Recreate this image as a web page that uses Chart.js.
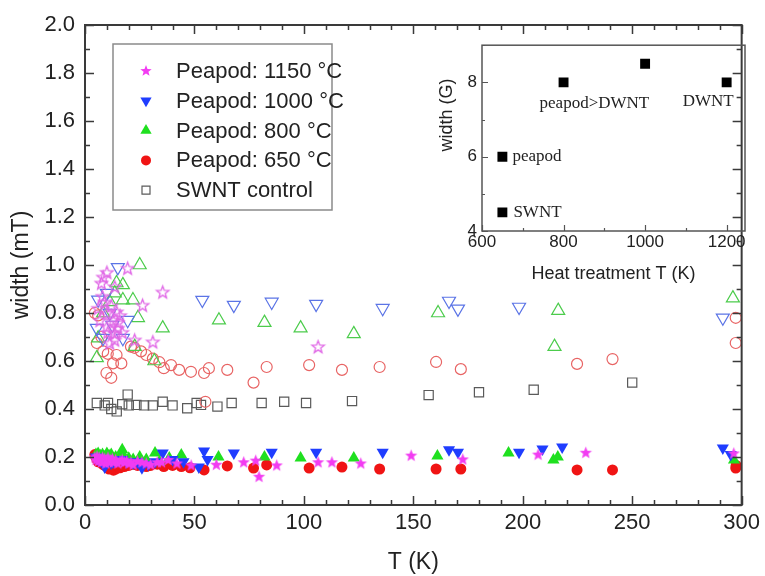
<!DOCTYPE html>
<html>
<head>
<meta charset="utf-8">
<script src="https://cdn.jsdelivr.net/npm/chart.js@4/dist/chart.umd.min.js"></script>
<style>
  html, body { margin: 0; padding: 0; background: #fff; }
  #wrap { position: relative; width: 765px; height: 576px; }
  #mainChart { position: absolute; left: 0; top: 0; }
  #insetChart { position: absolute; left: 436px; top: 30px; }
</style>
</head>
<body>
<div id="wrap">
  <canvas id="mainChart" width="765" height="576"></canvas>
  <canvas id="insetChart" width="329" height="255"></canvas>
</div>
<script>
// ---- main plot data: T (K) and linewidth (mT) ----
// Peapod 1150 C
const t1150Narrow = [4.5,5,5.5,6,6.5,7,7.5,8,8.5,9,9.5,10,10.5,11,11.5,12,12.5,13,14,15,16,17,18,19,20,21,22,24,26,28,30,33,35,38,42,48.5,60,72.5,78,79.5,87.6,106.5,112.8,126,149,172.6,207,228.8,296.4];
const w1150Narrow = [0.2,0.19,0.205,0.185,0.2,0.19,0.18,0.2,0.185,0.195,0.175,0.19,0.2,0.18,0.19,0.185,0.195,0.18,0.19,0.175,0.185,0.19,0.18,0.185,0.175,0.18,0.17,0.185,0.18,0.175,0.17,0.18,0.18,0.19,0.175,0.167,0.17,0.18,0.187,0.12,0.167,0.18,0.18,0.175,0.208,0.192,0.212,0.22,0.217];
const t1150Broad = [6,6.8,7.5,8,8.3,9,10,10,10,10.4,11.3,12,12.8,13.6,13.6,13.6,14.5,15,15,16,17,19.5,22.7,26.3,31,35.5,106.5];
const w1150Broad = [0.82,0.77,0.925,0.87,0.95,0.846,0.97,0.8,0.742,0.72,0.675,0.83,0.77,0.91,0.716,0.688,0.805,0.737,0.76,0.79,0.72,0.987,0.688,0.833,0.68,0.888,0.66];
// Peapod 1000 C
const t1000Narrow = [5,6,7,8,9,10,11,12,13,15,17,19,22,24,26,29,32,35.5,40,45,52,54.4,56,68,85.3,105.6,136,166.3,170.4,198.3,209,218,291.4,295];
const w1000Narrow = [0.2,0.19,0.185,0.18,0.158,0.18,0.185,0.175,0.18,0.185,0.19,0.18,0.175,0.18,0.155,0.17,0.18,0.217,0.19,0.18,0.158,0.225,0.19,0.217,0.22,0.22,0.22,0.23,0.22,0.22,0.233,0.242,0.238,0.21];
const t1000Broad = [5.4,6,8.2,10,11.3,12.5,15,17.3,19.5,53.6,68,85.3,105.6,136,166.3,170.4,198.3,291.4];
const w1000Broad = [0.737,0.855,0.695,0.883,0.8,0.75,0.99,0.695,0.77,0.854,0.833,0.846,0.837,0.82,0.85,0.817,0.825,0.78];
// Peapod 800 C
const t800Narrow = [5,6,7,8,9,10,11,12,14,16,17,18,20,22,25,28,32,34,38.5,44,61,82,98.5,122.8,161,193.5,214,216,296.5];
const w800Narrow = [0.21,0.215,0.205,0.21,0.2,0.215,0.205,0.21,0.2,0.205,0.23,0.2,0.195,0.19,0.2,0.19,0.217,0.18,0.196,0.208,0.2,0.2,0.196,0.196,0.204,0.217,0.187,0.2,0.187];
const t800Broad = [5.4,6,8.3,11.3,13.6,14.4,17.3,17.3,21.9,22.7,24.2,25,31.7,35.5,61.2,82,98.5,122.8,161.3,214.5,216.2,296];
const w800Broad = [0.613,0.695,0.8,0.846,0.883,0.925,0.917,0.854,0.854,0.66,0.78,1.0,0.6,0.737,0.77,0.76,0.737,0.713,0.8,0.66,0.81,0.862];
// Peapod 650 C
const t650Narrow = [4.5,5,5.5,6,7,8,9,10,11,12,13,14,15,16,17,18,20,22,24,26,28,30,33,36,40,44,48,54.4,65,77,83,102.4,117.4,134.6,160.4,171.7,224.8,241,297.3,297.5];
const w650Narrow = [0.21,0.2,0.19,0.18,0.185,0.17,0.165,0.16,0.15,0.155,0.145,0.15,0.16,0.155,0.165,0.16,0.165,0.17,0.165,0.17,0.16,0.165,0.17,0.16,0.165,0.16,0.155,0.146,0.163,0.154,0.167,0.154,0.158,0.15,0.15,0.15,0.146,0.146,0.154,0.165];
const t650Broad = [4.5,5.4,6,7.5,8.3,9.8,10.4,12,12.8,14.4,16.6,21,22.6,25.6,28,31,34,36,39.3,43,48.4,54.4,55,56.6,65,77,83,102.4,117.4,134.6,160.4,171.7,224.8,241,297.3,297.3];
const w650Broad = [0.8,0.675,0.79,0.7,0.64,0.55,0.63,0.53,0.59,0.625,0.59,0.66,0.655,0.64,0.625,0.61,0.595,0.57,0.583,0.563,0.555,0.55,0.43,0.57,0.563,0.51,0.575,0.583,0.563,0.575,0.596,0.566,0.588,0.608,0.78,0.675];
// SWNT control
const tSwnt = [5.4,9,10.5,12,14.5,17,19.5,20,23.5,27,31,35.5,40,46.7,51,53,60.5,67,80.7,91,101,122,157,180,205,250];
const wSwnt = [0.425,0.415,0.425,0.4,0.39,0.42,0.46,0.415,0.417,0.415,0.415,0.43,0.415,0.403,0.425,0.417,0.41,0.425,0.425,0.43,0.425,0.433,0.458,0.47,0.48,0.51];

const legendLabels = ['Peapod: 1150 °C', 'Peapod: 1000 °C', 'Peapod: 800 °C', 'Peapod: 650 °C', 'SWNT control'];

// ---- inset data: heat treatment T (K) vs width (G) ----
const insetT = [650, 650, 800, 1000, 1200];
const insetWidth = [4.5, 6, 8, 8.5, 8];
const insetNotes = ['SWNT', 'peapod', 'peapod>DWNT', '', 'DWNT'];

const SANS = '"Liberation Sans", Arial, sans-serif';
const SERIF = '"Liberation Serif", "Times New Roman", serif';
const TXT = '#222';

const MAG = '#f23cf2', MAG_L = '#e066e6';
const BLU = '#1f3dff', BLU_L = '#5b74e6';
const GRN = '#1fe01f', GRN_L = '#4ccc4c';
const RED = '#f01414', RED_L = '#e86464';
const GRY = '#5a5a5a';

function starPath(ctx, cx, cy, r) {
  ctx.beginPath();
  for (let i = 0; i < 10; i++) {
    const rad = i % 2 ? r * 0.42 : r;
    const ang = -Math.PI / 2 + i * Math.PI / 5;
    const px = cx + rad * Math.cos(ang), py = cy + rad * Math.sin(ang);
    if (i) ctx.lineTo(px, py); else ctx.moveTo(px, py);
  }
  ctx.closePath();
}

function starImage(r, fill, stroke) {
  const c = document.createElement('canvas');
  c.width = c.height = Math.ceil(r * 2 + 4);
  const g = c.getContext('2d');
  starPath(g, c.width / 2, c.height / 2 + r * 0.1, r);
  if (fill) { g.fillStyle = fill; g.fill(); }
  if (stroke) { g.strokeStyle = stroke; g.lineWidth = 1.3; g.stroke(); }
  return c;
}

const starFilled = starImage(6.5, MAG, null);
const starHollow = starImage(6.5, null, MAG_L);

function pts(ts, ws) {
  return ts.map((t, i) => ({x: t, y: ws[i]}));
}

function filled(data, style, color, r, rot) {
  return {data: data, pointStyle: style, pointRadius: r, pointRotation: rot || 0,
    pointBackgroundColor: color, pointBorderColor: color, pointBorderWidth: 0, showLine: false};
}
function hollow(data, style, color, r, rot) {
  return {data: data, pointStyle: style, pointRadius: r, pointRotation: rot || 0,
    pointBackgroundColor: 'rgba(0,0,0,0)', pointBorderColor: color, pointBorderWidth: 1.2, showLine: false};
}

// legend markers (drawn by hand, the legend sits inside the plot)
const legendMarkers = [
  {shape: 'star', r: 6, fill: MAG},
  {shape: 'triDown', r: 6.5, fill: BLU},
  {shape: 'tri', r: 6.5, fill: GRN},
  {shape: 'circle', r: 5, fill: RED},
  {shape: 'rect', r: 4, stroke: GRY}
];

function drawMarker(ctx, m, x, y) {
  ctx.save();
  ctx.fillStyle = m.fill || 'rgba(0,0,0,0)';
  ctx.strokeStyle = m.stroke || m.fill;
  ctx.lineWidth = 1.2;
  ctx.beginPath();
  if (m.shape === 'star') {
    starPath(ctx, x, y, m.r);
  } else if (m.shape === 'circle') {
    ctx.arc(x, y, m.r, 0, 2 * Math.PI);
  } else if (m.shape === 'tri' || m.shape === 'triDown') {
    const s = m.shape === 'tri' ? -1 : 1;
    ctx.moveTo(x, y + s * m.r);
    ctx.lineTo(x + m.r * 0.866, y - s * m.r * 0.5);
    ctx.lineTo(x - m.r * 0.866, y - s * m.r * 0.5);
    ctx.closePath();
  } else {
    ctx.rect(x - m.r, y - m.r, 2 * m.r, 2 * m.r);
  }
  if (m.fill) ctx.fill();
  if (m.stroke) ctx.stroke();
  ctx.restore();
}

// frame + inward pointing ticks on all sides
const frameTicks = {
  id: 'frameTicks',
  afterDraw(chart, args, o) {
    const {ctx, chartArea: a} = chart;
    const xs = chart.scales.x, ys = chart.scales.y;
    ctx.save();
    ctx.strokeStyle = o.color;
    ctx.lineWidth = o.tickWidth;
    ctx.beginPath();
    let n = Math.round((xs.max - xs.min) / o.xMinor);
    for (let i = 0; i <= n; i++) {
      const v = xs.min + i * o.xMinor;
      const px = Math.round(xs.getPixelForValue(v)) + 0.5;
      const q = v / o.xMajor;
      const len = Math.abs(q - Math.round(q)) < 1e-6 ? o.majorLen : o.minorLen;
      ctx.moveTo(px, a.bottom); ctx.lineTo(px, a.bottom - len);
      if (o.mirror) { ctx.moveTo(px, a.top); ctx.lineTo(px, a.top + len); }
    }
    n = Math.round((ys.max - ys.min) / o.yMinor);
    for (let i = 0; i <= n; i++) {
      const v = ys.min + i * o.yMinor;
      const py = Math.round(ys.getPixelForValue(v)) + 0.5;
      const q = v / o.yMajor;
      const len = Math.abs(q - Math.round(q)) < 1e-6 ? o.majorLen : o.minorLen;
      ctx.moveTo(a.left, py); ctx.lineTo(a.left + len, py);
      if (o.mirror) { ctx.moveTo(a.right, py); ctx.lineTo(a.right - len, py); }
    }
    ctx.stroke();
    ctx.lineWidth = o.lineWidth;
    ctx.strokeRect(a.left, a.top, a.right - a.left, a.bottom - a.top);
    ctx.restore();
  }
};

const legendBox = {
  id: 'legendBox',
  afterDraw(chart, args, o) {
    const ctx = chart.ctx;
    ctx.save();
    ctx.lineWidth = 1.5;
    ctx.strokeStyle = '#8a8a8a';
    ctx.strokeRect(o.left, o.top, o.width, o.height);
    ctx.font = '22px ' + SANS;
    ctx.textBaseline = 'middle';
    ctx.fillStyle = TXT;
    legendLabels.forEach((txt, i) => {
      const y = o.top + o.firstRow + i * o.rowGap;
      drawMarker(ctx, legendMarkers[i], o.left + o.markerX, y);
      ctx.fillText(txt, o.left + o.textX, y + 1);
    });
    ctx.restore();
  }
};

const mainDatasets = [
  filled(pts(t1150Narrow, w1150Narrow), starFilled, MAG, 6.5),
  hollow(pts(t1150Broad, w1150Broad), starHollow, MAG_L, 6.5),
  filled(pts(t1000Narrow, w1000Narrow), 'triangle', BLU, 7, 180),
  hollow(pts(t1000Broad, w1000Broad), 'triangle', BLU_L, 7.5, 180),
  filled(pts(t800Narrow, w800Narrow), 'triangle', GRN, 7),
  hollow(pts(t800Broad, w800Broad), 'triangle', GRN_L, 7.5),
  filled(pts(t650Narrow, w650Narrow), 'circle', RED, 5.5),
  hollow(pts(t650Broad, w650Broad), 'circle', RED_L, 5.5),
  hollow(pts(tSwnt, wSwnt), 'rect', GRY, 6.5)
];

new Chart(document.getElementById('mainChart'), {
  type: 'scatter',
  data: {datasets: mainDatasets},
  options: {
    responsive: false,
    animation: false,
    devicePixelRatio: 1,
    layout: {padding: {top: 25, right: 19, left: 0, bottom: 0}},
    plugins: {
      legend: {display: false},
      tooltip: {enabled: false},
      frameTicks: {color: '#3a3a3a', lineWidth: 2, tickWidth: 1.5, majorLen: 9, minorLen: 5,
        xMinor: 10, xMajor: 50, yMinor: 0.1, yMajor: 0.2, mirror: true},
      legendBox: {left: 113, top: 44, width: 219, height: 166, firstRow: 27, rowGap: 29.8, markerX: 33, textX: 63}
    },
    scales: {
      x: {
        type: 'linear', min: 0, max: 300,
        afterFit: s => { s.height = 71; },
        grid: {display: false, drawTicks: false},
        border: {display: false},
        ticks: {stepSize: 50, maxRotation: 0, padding: 5, color: TXT, font: {size: 22, family: SANS}},
        title: {display: true, text: 'T (K)', color: TXT, font: {size: 23, family: SANS}, padding: {top: 3, bottom: 0}}
      },
      y: {
        type: 'linear', min: 0, max: 2,
        afterFit: s => { s.width = 85; },
        grid: {display: false, drawTicks: false},
        border: {display: false},
        ticks: {stepSize: 0.2, padding: 10, color: TXT, font: {size: 22, family: SANS},
          callback: v => Number(v).toFixed(1)},
        title: {display: true, text: 'width (mT)', color: TXT, font: {size: 23, family: SANS}, padding: {top: 8, bottom: 0}}
      }
    }
  },
  plugins: [frameTicks, legendBox]
});

// ---- inset ----
const insetNotesPlugin = {
  id: 'insetNotes',
  afterDraw(chart, args, o) {
    const {ctx} = chart;
    const xs = chart.scales.x, ys = chart.scales.y;
    ctx.save();
    ctx.fillStyle = TXT;
    ctx.font = '17px ' + SERIF;
    ctx.textBaseline = 'middle';
    insetNotes.forEach((txt, i) => {
      if (!txt) return;
      const off = o.offsets[i];
      ctx.fillText(txt, xs.getPixelForValue(insetT[i]) + off[0], ys.getPixelForValue(insetWidth[i]) + off[1]);
    });
    // y-axis title, sits a bit above the middle in the original
    ctx.font = '18px ' + SANS;
    ctx.textAlign = 'center';
    ctx.translate(o.yTitleX, o.yTitleY);
    ctx.rotate(-Math.PI / 2);
    ctx.fillText('width (G)', 0, 0);
    ctx.restore();
  }
};

new Chart(document.getElementById('insetChart'), {
  type: 'scatter',
  data: {datasets: [{
    data: pts(insetT, insetWidth),
    pointStyle: 'rect', pointRadius: 7,
    pointBackgroundColor: '#000', pointBorderColor: '#000', pointBorderWidth: 0, showLine: false
  }]},
  options: {
    responsive: false,
    animation: false,
    devicePixelRatio: 1,
    layout: {padding: {top: 8, right: 20, left: 0, bottom: 0}},
    plugins: {
      legend: {display: false},
      tooltip: {enabled: false},
      frameTicks: {color: '#555', lineWidth: 1.5, tickWidth: 1.2, majorLen: 6, minorLen: 3,
        xMinor: 100, xMajor: 200, yMinor: 1, yMajor: 2, mirror: false},
      insetNotes: {offsets: [[11, 0], [10, 0], [-24, 21], [0, 0], [-44, 19]], yTitleX: 11, yTitleY: 85}
    },
    scales: {
      x: {
        type: 'linear', min: 600, max: 1245,
        afterFit: s => { s.height = 54; },
        grid: {display: false, drawTicks: false},
        border: {display: false},
        ticks: {stepSize: 200, includeBounds: false, maxRotation: 0, padding: 1, color: TXT, font: {size: 17, family: SANS},
          callback: v => String(v)},
        title: {display: true, text: 'Heat treatment T (K)', color: TXT, font: {size: 18, family: SANS}, padding: {top: 1, bottom: 0}}
      },
      y: {
        type: 'linear', min: 4, max: 9,
        afterFit: s => { s.width = 46; },
        grid: {display: false, drawTicks: false},
        border: {display: false},
        ticks: {stepSize: 2, includeBounds: false, padding: 5, color: TXT, font: {size: 17, family: SANS},
          callback: v => String(v)}
      }
    }
  },
  plugins: [frameTicks, insetNotesPlugin]
});
</script>
</body>
</html>
